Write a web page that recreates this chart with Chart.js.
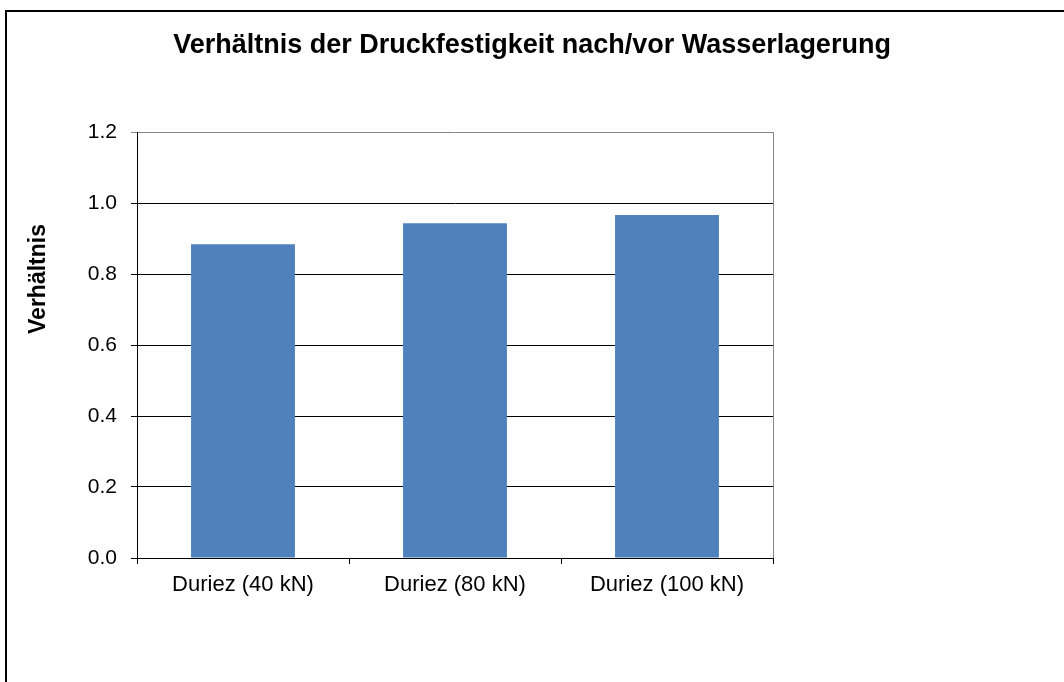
<!DOCTYPE html>
<html lang="de">
<head>
  <meta charset="UTF-8">
  <title>Verhältnis der Druckfestigkeit</title>
  <script src="https://cdn.jsdelivr.net/npm/chart.js"></script>
  <style>
    html, body { margin: 0; padding: 0; background: #fff; overflow: hidden; }
    #wrap { position: relative; width: 1064px; height: 682px; }
  </style>
</head>
<body>
  <div id="wrap">
    <canvas id="chart" width="1064" height="682"></canvas>
  </div>

  <script>
// chart data
const categories = ['Duriez (40 kN)', 'Duriez (80 kN)', 'Duriez (100 kN)'];
const ratios = [0.884, 0.943, 0.966];
const yTicks = [0.0, 0.2, 0.4, 0.6, 0.8, 1.0, 1.2];

const chartTitle = 'Verhältnis der Druckfestigkeit nach/vor Wasserlagerung';
const yTitle = 'Verhältnis';
const fontFamily = '"Liberation Sans", Arial, Helvetica, sans-serif';

// frame, chart title, rotated y title and gray plot border
const decorations = {
  id: 'decorations',
  beforeDraw(chart) {
    const ctx = chart.ctx;
    ctx.save();
    ctx.fillStyle = '#fff';
    ctx.fillRect(0, 0, chart.width, chart.height);
    ctx.strokeStyle = '#000';
    ctx.lineWidth = 2;
    ctx.strokeRect(6, 11, 2000, 2000);
    ctx.restore();
  },
  afterDraw(chart) {
    const ctx = chart.ctx;
    const area = chart.chartArea;
    ctx.save();
    // right border of the plot area
    ctx.strokeStyle = '#868686';
    ctx.lineWidth = 1;
    ctx.beginPath();
    ctx.moveTo(area.right + 0.5, area.top);
    ctx.lineTo(area.right + 0.5, area.bottom);
    ctx.stroke();

    ctx.fillStyle = '#000';
    ctx.textAlign = 'center';
    ctx.textBaseline = 'middle';
    ctx.font = 'bold 27px ' + fontFamily;
    ctx.fillText(chartTitle, 532, 46);

    ctx.translate(39, 279);
    ctx.rotate(-Math.PI / 2);
    ctx.font = 'bold 23px ' + fontFamily;
    ctx.fillText(yTitle, 0, 0);
    ctx.restore();
  }
};

new Chart(document.getElementById('chart'), {
  type: 'bar',
  data: {
    labels: categories,
    datasets: [{
      data: ratios,
      backgroundColor: '#4F81BD',
      borderWidth: 0,
      categoryPercentage: 1.0,
      barPercentage: 0.49
    }]
  },
  options: {
    responsive: false,
    animation: false,
    devicePixelRatio: 1,
    layout: {
      padding: { left: 0, top: 132, right: 291, bottom: 84 }
    },
    plugins: {
      legend: { display: false },
      title: { display: false },
      tooltip: { enabled: false }
    },
    scales: {
      x: {
        afterFit(scale) { scale.height = 40; },
        grid: {
          offset: true,
          drawOnChartArea: false,
          drawTicks: true,
          tickLength: 6,
          color: '#000'
        },
        border: { color: '#000', width: 1 },
        ticks: {
          color: '#000',
          padding: 8,
          maxRotation: 0,
          font: { family: fontFamily, size: 22 }
        }
      },
      y: {
        min: 0,
        max: 1.2,
        afterFit(scale) { scale.width = 137; },
        afterBuildTicks(scale) {
          scale.ticks = yTicks.map(v => ({ value: v }));
        },
        grid: {
          drawTicks: true,
          tickLength: 6,
          color: ctx => (ctx.tick && ctx.tick.value === 1.2 ? '#868686' : '#000')
        },
        border: { color: '#000', width: 1 },
        ticks: {
          color: '#000',
          padding: 14,
          font: { family: fontFamily, size: 21 },
          callback: v => Number(v).toFixed(1)
        }
      }
    }
  },
  plugins: [decorations]
});
  </script>
</body>
</html>
